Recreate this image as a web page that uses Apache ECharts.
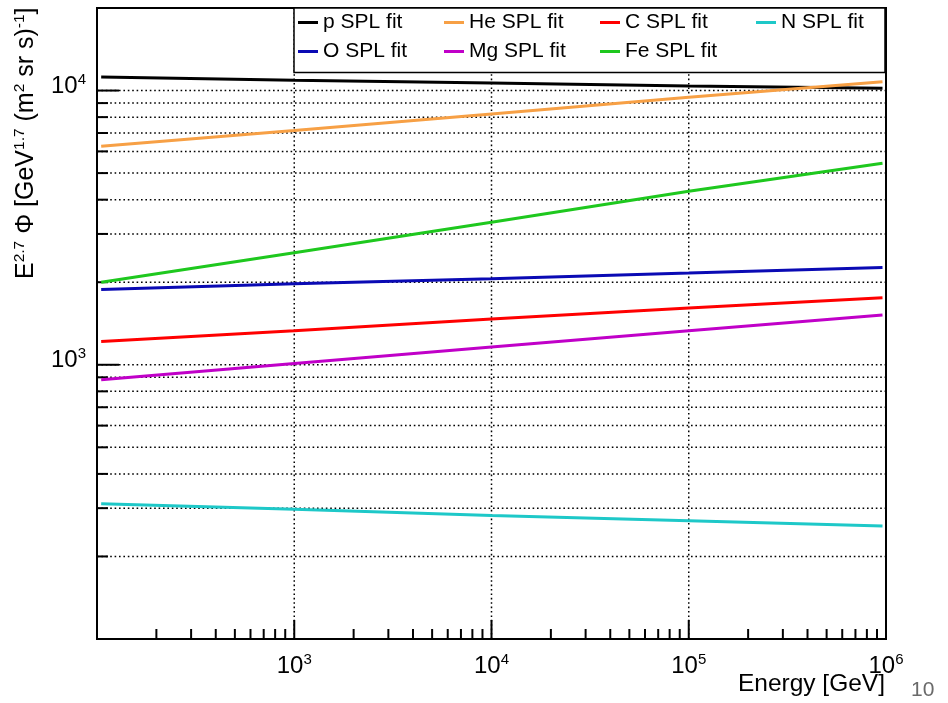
<!DOCTYPE html>
<html>
<head>
<meta charset="utf-8">
<script src="https://cdn.jsdelivr.net/npm/echarts@6/dist/echarts.min.js"></script>
<style>
  html, body { margin: 0; padding: 0; background: #ffffff; }
  #chart { width: 948px; height: 703px; }
</style>
</head>
<body>
<div id="chart"></div>
<script>
// Energy points at which each fitted curve is sampled (GeV)
const energies = [105, 1e3, 1e4, 1e5, 9.6e5];

// E^2.7-weighted flux of each single power-law fit
const pFit  = [11200, 10900, 10650, 10400, 10200];
const heFit = [6260, 7150, 8220, 9450, 10760];
const cFit  = [1215, 1330, 1470, 1610, 1755];
const nFit  = [311, 297, 282, 270, 258];
const oFit  = [1880, 1975, 2060, 2160, 2265];
const mgFit = [882, 1010, 1160, 1330, 1520];
const feFit = [2000, 2560, 3310, 4290, 5430];

const seriesNames = ['p SPL fit', 'He SPL fit', 'C SPL fit', 'N SPL fit', 'O SPL fit', 'Mg SPL fit', 'Fe SPL fit'];

// Axis ranges
const xRange = [100, 1e6];
const yRange = [100, 2e4];

// Grid and tick values
const xGridValues  = [1e3, 1e4, 1e5];
const xMajorTicks  = [1e3, 1e4, 1e5];
const xMinorTicks  = [200, 300, 400, 500, 600, 700, 800, 900,
                      2e3, 3e3, 4e3, 5e3, 6e3, 7e3, 8e3, 9e3,
                      2e4, 3e4, 4e4, 5e4, 6e4, 7e4, 8e4, 9e4,
                      2e5, 3e5, 4e5, 5e5, 6e5, 7e5, 8e5, 9e5];
const yGridValues  = [200, 300, 400, 500, 600, 700, 800, 900, 1000,
                      2000, 3000, 4000, 5000, 6000, 7000, 8000, 9000, 10000];
const yMajorTicks  = [1e3, 1e4];
const yMinorTicks  = [200, 300, 400, 500, 600, 700, 800, 900,
                      2000, 3000, 4000, 5000, 6000, 7000, 8000, 9000];

// Styling
const FONT = '"Liberation Sans", Arial, Helvetica, sans-serif';
const colors = ['#000000', '#f7a045', '#ff0000', '#1ec8c8', '#0a0ab4', '#c000c8', '#1ec81e'];
const legendPos = [
  { left: 298, top: 12 }, { left: 444, top: 12 }, { left: 600, top: 12 }, { left: 756, top: 12 },
  { left: 298, top: 41 }, { left: 444, top: 41 }, { left: 600, top: 41 }
];

const fits = [pFit, heFit, cFit, nFit, oFit, mgFit, feFit];

function powerLabel(v) {
  const lg = Math.log10(v);
  const e = Math.round(lg);
  if (Math.abs(lg - e) > 1e-6) return '';
  return '{b|10}{s|' + e + '}';
}

const tickRich = {
  b: { fontSize: 24, fontFamily: FONT, color: '#000', lineHeight: 28 },
  s: { fontSize: 15, fontFamily: FONT, color: '#000', lineHeight: 15, verticalAlign: 'top' }
};

const dotted = { stroke: '#000', lineWidth: 1.5, lineDash: [1.6, 2.8] };

function hGrid(params, api) {
  const v = api.value(1);
  const a = api.coord([xRange[0], v]);
  const b = api.coord([xRange[1], v]);
  return { type: 'line', shape: { x1: a[0], y1: a[1], x2: b[0], y2: b[1] }, style: dotted };
}
function vGrid(params, api) {
  const v = api.value(0);
  const a = api.coord([v, yRange[0]]);
  const b = api.coord([v, yRange[1]]);
  return { type: 'line', shape: { x1: a[0], y1: a[1], x2: b[0], y2: b[1] }, style: dotted };
}
function yTick(len) {
  return function (params, api) {
    const p = api.coord([xRange[0], api.value(1)]);
    return { type: 'line', shape: { x1: p[0], y1: p[1], x2: p[0] + len, y2: p[1] },
             style: { stroke: '#000', lineWidth: 2 } };
  };
}
function xTick(len) {
  return function (params, api) {
    const p = api.coord([api.value(0), yRange[0]]);
    return { type: 'line', shape: { x1: p[0], y1: p[1], x2: p[0], y2: p[1] - len },
             style: { stroke: '#000', lineWidth: 2 } };
  };
}
function helper(name, data, renderItem) {
  return { type: 'custom', name: name, silent: true, z: 1, data: data, renderItem: renderItem, clip: false };
}

const series = [
  helper('_hgrid', yGridValues.map(v => [xRange[0], v]), hGrid),
  helper('_vgrid', xGridValues.map(v => [v, yRange[0]]), vGrid),
  helper('_ymaj', yMajorTicks.map(v => [xRange[0], v]), yTick(22)),
  helper('_ymin', yMinorTicks.map(v => [xRange[0], v]), yTick(11)),
  helper('_xmaj', xMajorTicks.map(v => [v, yRange[0]]), xTick(19)),
  helper('_xmin', xMinorTicks.map(v => [v, yRange[0]]), xTick(10))
];

fits.forEach((vals, i) => {
  series.push({
    type: 'line',
    name: seriesNames[i],
    data: energies.map((e, k) => [e, vals[k]]),
    showSymbol: false,
    symbol: 'none',
    z: 3,
    itemStyle: { color: colors[i] },
    lineStyle: { color: colors[i], width: 3 }
  });
});

const legends = seriesNames.map((n, i) => ({
  data: [n],
  left: legendPos[i].left,
  top: legendPos[i].top,
  padding: 0,
  icon: 'rect',
  itemWidth: 20,
  itemHeight: 3,
  selectedMode: false,
  z: 12,
  textStyle: { fontSize: 21, fontFamily: FONT, color: '#000', padding: [0, 0, 0, 0] }
}));

const chart = echarts.init(document.getElementById('chart'), null, { renderer: 'canvas' });
chart.setOption({
  animation: false,
  backgroundColor: '#ffffff',
  grid: { left: 97, right: 62, top: 8, bottom: 64, show: true, borderColor: '#000', borderWidth: 2, z: 4 },
  legend: legends,
  xAxis: {
    type: 'log', logBase: 10, min: xRange[0], max: xRange[1],
    axisLine: { show: false }, axisTick: { show: false }, splitLine: { show: false },
    axisLabel: { showMinLabel: false, showMaxLabel: true, margin: 13, formatter: powerLabel, rich: tickRich }
  },
  yAxis: {
    type: 'log', logBase: 10, min: yRange[0], max: yRange[1],
    axisLine: { show: false }, axisTick: { show: false }, splitLine: { show: false },
    axisLabel: { showMinLabel: false, margin: 11, formatter: powerLabel, rich: tickRich, padding: [0, 0, 8, 0] }
  },
  graphic: [
    {
      type: 'rect', z: 10, silent: true,
      shape: { x: 294, y: 8, width: 591, height: 64.5 },
      style: { fill: '#ffffff', stroke: '#000000', lineWidth: 1.5 }
    },
    {
      type: 'text', z: 10, silent: true,
      x: 41, y: 279, rotation: Math.PI / 2,
      style: {
        text: '{t|E}{s|2.7}{t| \u03A6 [GeV}{s|1.7}{t| (m}{s|2}{t| sr s)}{s|-1}{t|]}',
        align: 'left', verticalAlign: 'bottom', textAlign: 'left', textVerticalAlign: 'bottom',
        rich: {
          t: { fontSize: 25, fontFamily: FONT, fill: '#000', lineHeight: 29 },
          s: { fontSize: 15.5, fontFamily: FONT, fill: '#000', lineHeight: 15.5, verticalAlign: 'top' }
        }
      }
    },
    {
      type: 'text', z: 10, silent: true,
      x: 885, y: 672,
      style: {
        text: 'Energy [GeV]', fontSize: 24.5, fontFamily: FONT, fill: '#000',
        align: 'right', verticalAlign: 'top', textAlign: 'right', textVerticalAlign: 'top'
      }
    },
    {
      type: 'text', z: 10, silent: true,
      x: 911, y: 680,
      style: {
        text: '10', fontSize: 21, fontFamily: FONT, fill: '#6a6a6a',
        align: 'left', verticalAlign: 'top', textAlign: 'left', textVerticalAlign: 'top'
      }
    }
  ],
  series: series
});
</script>
</body>
</html>
